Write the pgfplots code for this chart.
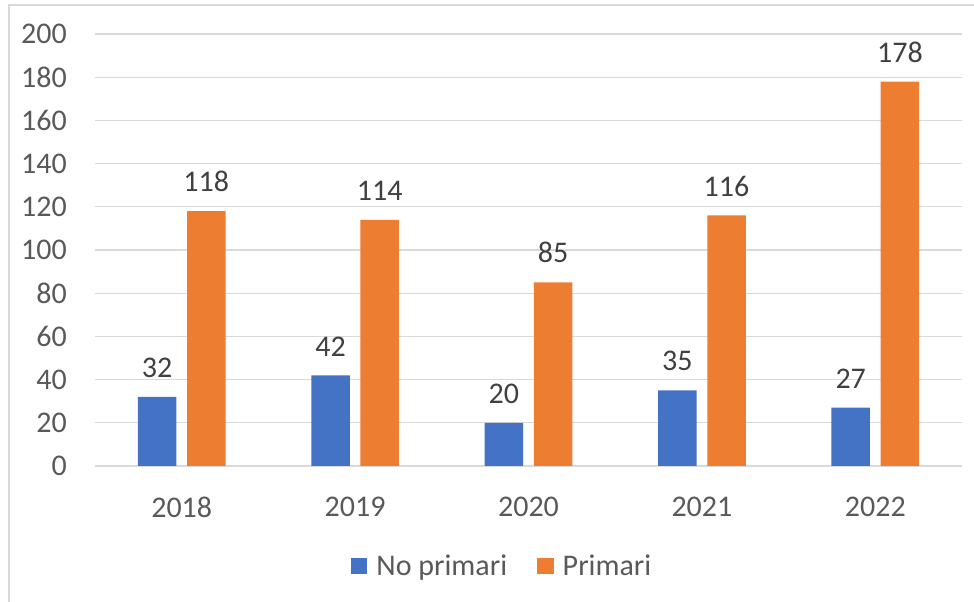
\documentclass[border=0pt]{standalone}
\usepackage{pgfplots}
\pgfplotsset{compat=1.18}
\usepackage{fontspec}
\setmainfont{Carlito}
\definecolor{cblue}{HTML}{4472C4}
\definecolor{corange}{HTML}{ED7D31}
\definecolor{tickgray}{HTML}{595959}
\definecolor{labgray}{HTML}{404040}
\definecolor{gridgray}{HTML}{D9D9D9}
\begin{document}
\begin{tikzpicture}[x=1bp,y=1bp]
\useasboundingbox (0,0) rectangle (974,602);
\draw[gridgray, line width=1.2bp] (9,0) -- (9,597) -- (974,597);
\begin{axis}[
  at={(95bp,136bp)}, anchor=south west,
  scale only axis, width=867bp, height=432bp,
  ybar=10.7bp, bar width=38.5bp,
  xmin=-0.5, xmax=4.5, ymin=0, ymax=200,
  xtick={0,1,2,3,4}, xticklabels={2018,2019,2020,2021,2022},
  ytick={0,20,...,200},
  axis line style={draw=none},
  ymajorgrids, grid style={gridgray, line width=1.1bp},
  major tick length=0pt,
  /pgf/number format/assume math mode=true,
  tick label style={font=\fontsize{30bp}{36bp}\selectfont, text=tickgray},
  yticklabel style={inner sep=0pt, xshift=-28bp},
  xticklabel style={inner sep=0pt, yshift=-31bp},
  nodes near coords,
  every node near coord/.append style={font=\fontsize{30bp}{36bp}\selectfont, text=labgray, inner sep=0pt, yshift=19bp},
  legend columns=2,
  legend style={at={(0.4683,-0.2315)}, anchor=center, draw=none,
    font=\fontsize{30bp}{36bp}\selectfont, text=tickgray, inner sep=0pt,
    nodes={inner sep=0pt},
    /tikz/every odd column/.append style={column sep=9bp},
    /tikz/every even column/.append style={column sep=30bp}},
  legend image code/.code={\fill[#1] (0bp,-8.3bp) rectangle (16.6bp,8.3bp);},
]
\addplot[fill=cblue, draw=none] coordinates {(0,32) (1,42) (2,20) (3,35) (4,27)};
\addplot[fill=corange, draw=none] coordinates {(0,118) (1,114) (2,85) (3,116) (4,178)};
\legend{No primari, Primari}
\end{axis}
\end{tikzpicture}
\end{document}
